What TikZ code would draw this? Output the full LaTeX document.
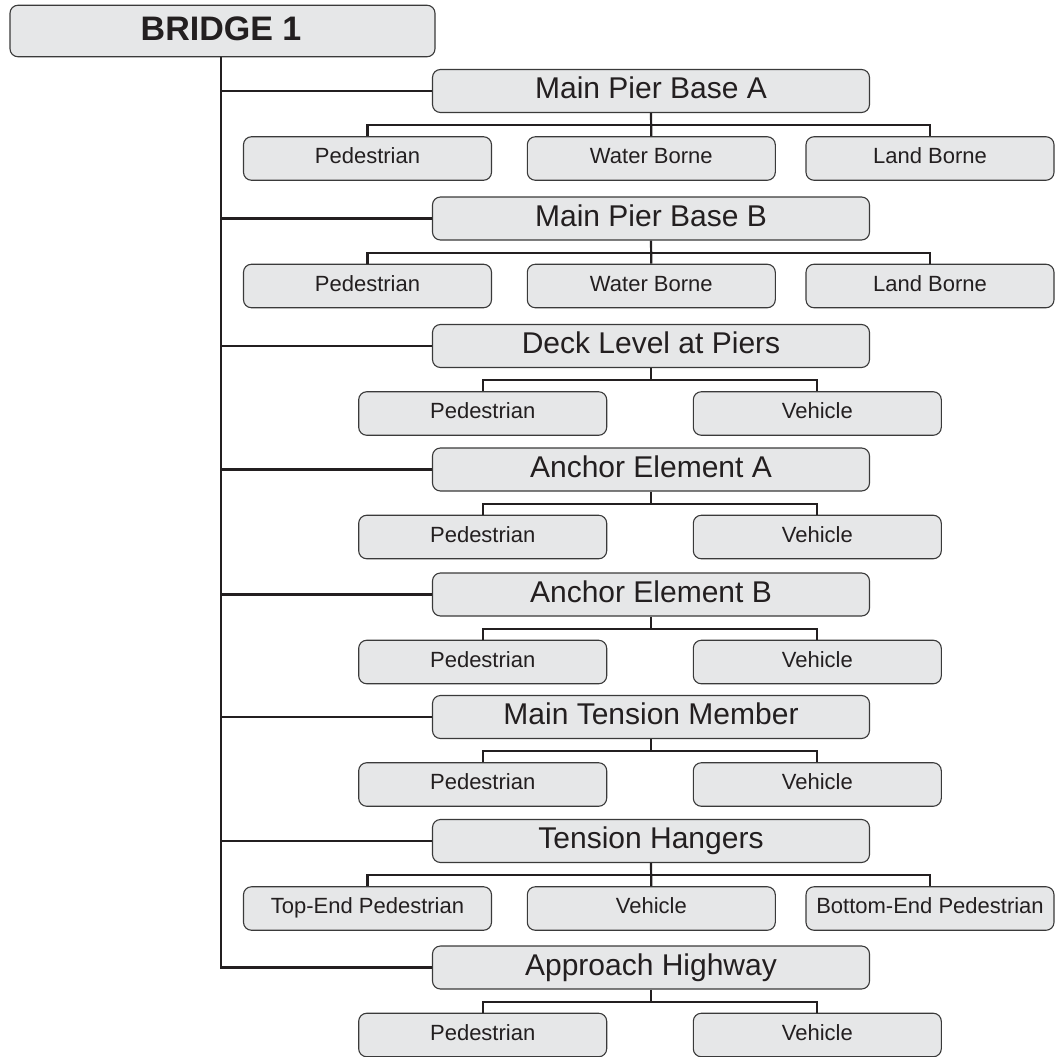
\documentclass[tikz,border=0pt]{standalone}
\usepackage{fontspec}
\setmainfont{Liberation Sans}
\definecolor{boxfill}{HTML}{E6E7E8}
\definecolor{boxline}{HTML}{3A3A3A}
\definecolor{ink}{HTML}{231F20}
\begin{document}
\begin{tikzpicture}[x=1pt,y=-1pt,
  base/.style={draw=boxline,line width=1.1pt,fill=boxfill,rounded corners=8pt,inner sep=0pt,text=ink,anchor=center},
  rootbox/.style={base,minimum width=425pt,minimum height=51.5pt,text height=25pt,text depth=5.6pt,font=\fontsize{34}{36}\selectfont\bfseries},
  lvlbox/.style={base,minimum width=437pt,minimum height=43pt,text height=22pt,text depth=6.5pt,font=\fontsize{30}{32}\selectfont},
  leafbox/.style={base,minimum width=248pt,minimum height=43.5pt,text height=16pt,text depth=5.8pt,font=\fontsize{22}{24}\selectfont},
  conn/.style={draw=ink,line width=2.2pt}]
\useasboundingbox (0,0) rectangle (1060,1057);
\coordinate (trunk) at (220.7,0);
\node[rootbox] (root) at (222.5,31) {\hspace*{-3pt}BRIDGE 1};

% level 1
\node[lvlbox] (L1) at (651,91) {Main Pier Base A};
\node[lvlbox] (L2) at (651,218.5) {Main Pier Base B};
\node[lvlbox] (L3) at (651,346) {Deck Level at Piers};
\node[lvlbox] (L4) at (651,469.5) {Anchor Element A};
\node[lvlbox] (L5) at (651,594.5) {Anchor Element B};
\node[lvlbox] (L6) at (651,717) {Main Tension Member};
\node[lvlbox] (L7) at (651,841) {Tension Hangers};
\node[lvlbox] (L8) at (651,967.5) {Approach Highway};

% trunk and branches
\draw[conn] (trunk |- root.south) |- (L8.west);
\foreach \i in {1,...,7} {\draw[conn] (trunk |- L\i.west) -- (L\i.west);}

% leaves
\node[leafbox] (C1a) at (367.5,158.5) {Pedestrian};
\node[leafbox] (C1b) at (651.3,158.5) {Water Borne};
\node[leafbox] (C1c) at (930,158.5) {Land Borne};
\node[leafbox] (C2a) at (367.5,286) {Pedestrian};
\node[leafbox] (C2b) at (651.3,286) {Water Borne};
\node[leafbox] (C2c) at (930,286) {Land Borne};
\node[leafbox] (C3a) at (482.7,413.5) {Pedestrian};
\node[leafbox] (C3b) at (817.3,413.5) {Vehicle};
\node[leafbox] (C4a) at (482.7,537) {Pedestrian};
\node[leafbox] (C4b) at (817.3,537) {Vehicle};
\node[leafbox] (C5a) at (482.7,662) {Pedestrian};
\node[leafbox] (C5b) at (817.3,662) {Vehicle};
\node[leafbox] (C6a) at (482.7,784.5) {Pedestrian};
\node[leafbox] (C6b) at (817.3,784.5) {Vehicle};
\node[leafbox] (C7a) at (367.5,908.5) {Top-End Pedestrian};
\node[leafbox] (C7b) at (651.3,908.5) {Vehicle};
\node[leafbox] (C7c) at (930,908.5) {Bottom-End Pedestrian};
\node[leafbox] (C8a) at (482.7,1035) {Pedestrian};
\node[leafbox] (C8b) at (817.3,1035) {Vehicle};

% three-child buses
\foreach \i in {1,2,7} {
  \draw[conn] (C\i a.north) -- ++(0,-11) -| (C\i c.north);
  \draw[conn] (L\i.south) -- (C\i b.north);
}
% two-child buses
\foreach \i in {3,4,5,6,8} {
  \draw[conn] (C\i a.north) -- ++(0,-11) coordinate (bus\i) -| (C\i b.north);
  \draw[conn] (L\i.south) -- (L\i.south |- bus\i);
}
\end{tikzpicture}
\end{document}
